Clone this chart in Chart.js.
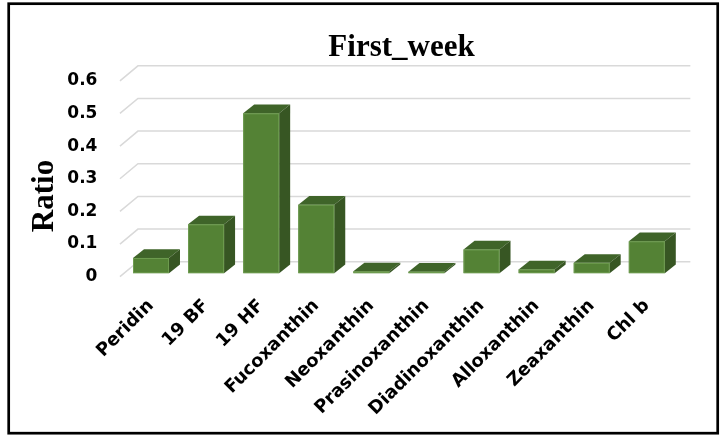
<!DOCTYPE html>
<html>
<head>
<meta charset="utf-8">
<script src="https://cdn.jsdelivr.net/npm/chart.js@4.4.1/dist/chart.umd.min.js"></script>
<style>
  html, body { margin: 0; padding: 0; background: #ffffff; }
  #wrap { width: 727px; height: 437px; position: relative; }
</style>
</head>
<body>
<div id="wrap"><canvas id="c" width="727" height="437"></canvas></div>
<script>
// Pigment ratios for the first week
const categories = ['Peridin', '19 BF', '19 HF', 'Fucoxanthin', 'Neoxanthin',
  'Prasinoxanthin', 'Diadinoxanthin', 'Alloxanthin', 'Zeaxanthin', 'Chl b'];
const ratioValues = [0.047, 0.15, 0.49, 0.21, 0.006, 0.005, 0.073, 0.012, 0.032, 0.098];
const yTicks = [0, 0.1, 0.2, 0.3, 0.4, 0.5, 0.6];
const chartTitle = 'First_week';
const yAxisTitle = 'Ratio';

// depth of the pseudo-3D bars and of the back wall
const BAR_DX = 11, BAR_DY = 8.7;
const WALL_BACK = 11.6, WALL_FRONT = 3.4;

const FRONT = '#548235';
const TOP = '#3f6429';
const SIDE = '#375623';

const depthPlugin = {
  id: 'depth3d',
  beforeDatasetsDraw(chart) {
    const { ctx, chartArea, scales: { y } } = chart;
    ctx.save();
    ctx.strokeStyle = '#d9d9d9';
    ctx.lineWidth = 1.5;
    y.ticks.forEach(t => {
      const py = y.getPixelForValue(t.value);
      ctx.beginPath();
      ctx.moveTo(chartArea.left - 3.5, py + WALL_FRONT);
      ctx.lineTo(chartArea.left + 14.5, py - WALL_BACK);
      ctx.lineTo(chartArea.right + 16, py - WALL_BACK);
      ctx.stroke();
    });
    ctx.restore();
  },
  afterDatasetsDraw(chart) {
    const { ctx } = chart;
    const meta = chart.getDatasetMeta(0);
    ctx.save();
    meta.data.forEach(bar => {
      const { x, y, base, width } = bar.getProps(['x', 'y', 'base', 'width'], true);
      const l = x - width / 2, r = x + width / 2;
      // top face
      ctx.fillStyle = TOP;
      ctx.beginPath();
      ctx.moveTo(l, y);
      ctx.lineTo(r, y);
      ctx.lineTo(r + BAR_DX, y - BAR_DY);
      ctx.lineTo(l + BAR_DX, y - BAR_DY);
      ctx.closePath();
      ctx.fill();
      // right side face
      ctx.fillStyle = SIDE;
      ctx.beginPath();
      ctx.moveTo(r, y);
      ctx.lineTo(r + BAR_DX, y - BAR_DY);
      ctx.lineTo(r + BAR_DX, base - BAR_DY);
      ctx.lineTo(r, base);
      ctx.closePath();
      ctx.fill();
      // light front edge
      ctx.strokeStyle = '#6e9c50';
      ctx.lineWidth = 1;
      ctx.strokeRect(l + 0.5, y + 0.5, width - 1, Math.max(base - y - 1, 0));
    });
    ctx.restore();
  },
  afterDraw(chart) {
    const { ctx } = chart;
    ctx.save();
    ctx.fillStyle = '#000000';
    // chart title
    ctx.font = 'bold 31px "Liberation Serif", "Times New Roman", serif';
    ctx.textAlign = 'center';
    ctx.textBaseline = 'alphabetic';
    ctx.fillText(chartTitle, 401.5, 56);
    // vertical axis title
    ctx.translate(53.3, 196);
    ctx.rotate(-Math.PI / 2);
    ctx.fillText(yAxisTitle, 0, 0);
    ctx.restore();
    // outer frame
    ctx.save();
    ctx.strokeStyle = '#000000';
    ctx.lineWidth = 2.7;
    ctx.strokeRect(8.7, 3.7, 709, 429.5);
    ctx.restore();
  }
};

const yTickFont = { family: '"DejaVu Sans", sans-serif', size: 17, weight: 'bold' };
const xTickFont = { family: '"DejaVu Sans", sans-serif', size: 18, weight: 'bold' };

new Chart(document.getElementById('c'), {
  type: 'bar',
  data: {
    labels: categories,
    datasets: [{
      data: ratioValues,
      backgroundColor: FRONT,
      borderWidth: 0,
      barPercentage: 0.653,
      categoryPercentage: 1.0
    }]
  },
  options: {
    responsive: false,
    animation: false,
    devicePixelRatio: 1,
    layout: { padding: { left: 0, right: 52.65, top: 77.4, bottom: 0 } },
    plugins: {
      legend: { display: false },
      title: { display: false },
      tooltip: { enabled: false }
    },
    scales: {
      x: {
        grid: { display: false, drawTicks: false },
        border: { display: false },
        ticks: {
          autoSkip: false,
          maxRotation: 45,
          minRotation: 45,
          padding: 22,
          color: '#000000',
          font: xTickFont
        },
        afterFit(scale) { scale.height = 437 - 273.3; }
      },
      y: {
        min: 0,
        max: 0.6,
        grid: { display: false, drawTicks: false },
        border: { display: false },
        afterBuildTicks(scale) { scale.ticks = yTicks.map(v => ({ value: v })); },
        ticks: {
          padding: 26,
          labelOffset: 3.4,
          color: '#000000',
          font: yTickFont,
          callback: v => String(+Number(v).toFixed(1))
        },
        afterFit(scale) { scale.width = 123.45; }
      }
    }
  },
  plugins: [depthPlugin]
});
</script>
</body>
</html>
